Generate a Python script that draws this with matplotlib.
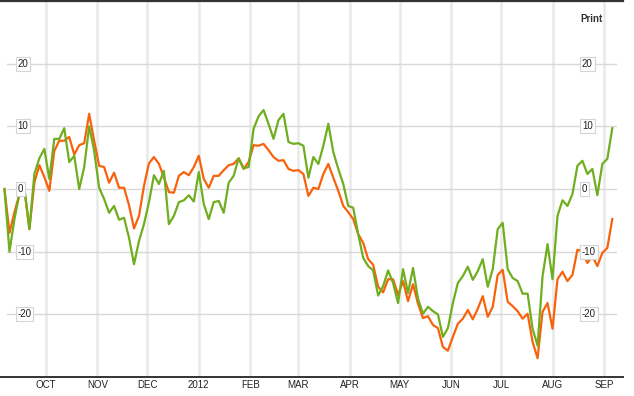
import matplotlib
matplotlib.use("Agg")
import matplotlib.pyplot as plt
import matplotlib.transforms as mtransforms
import pandas as pd

# percent change, sampled every 3 days from 2011-09-06
green = [0.0, -10.0, -4.8, -0.8, 0.0, -6.4, 2.4, 4.9, 6.4, 1.6,
         8.0, 8.0, 9.7, 4.3, 5.3, 0.0, 3.5, 10.0, 6.1, 0.2,
         -1.6, -3.8, -2.7, -4.9, -4.6, -7.8, -12.0, -8.3, -5.6, -2.1,
         2.2, 0.8, 2.9, -5.6, -4.3, -2.1, -1.8, -1.0, -2.0, 2.7,
         -2.4, -4.8, -2.1, -1.9, -3.8, 1.0, 2.1, 4.9, 3.3, 3.5,
         9.6, 11.6, 12.6, 10.4, 8.0, 11.0, 12.0, 7.5, 7.2, 7.3,
         6.9, 1.8, 5.1, 4.0, 6.9, 10.4, 5.9, 3.2, 0.8, -2.7,
         -3.0, -7.2, -11.0, -12.3, -13.0, -17.0, -15.5, -13.0, -15.0, -18.2,
         -12.8, -16.6, -12.6, -17.5, -19.9, -18.8, -19.5, -20.0, -23.6, -22.2,
         -18.2, -15.0, -13.9, -12.4, -14.5, -13.1, -11.2, -15.6, -12.8, -6.4,
         -5.4, -12.8, -14.2, -14.7, -16.7, -16.7, -22.3, -25.0, -13.9, -8.8,
         -14.4, -4.3, -1.8, -2.7, -0.8, 3.7, 4.5, 2.4, 3.2, -1.0,
         4.0, 4.8, 9.7]

orange = [0.0, -7.0, -3.7, -0.8, 0.0, -6.4, 1.0, 3.8, 1.9, -0.3,
          6.1, 7.7, 7.7, 8.3, 5.5, 7.0, 7.3, 12.0, 7.7, 3.7,
          3.5, 1.0, 2.6, 0.2, 0.2, -2.6, -6.3, -4.3, 0.5, 4.1,
          5.1, 4.0, 1.9, -0.5, -0.6, 2.1, 2.7, 2.2, 3.5, 5.3,
          1.6, 0.2, 2.1, 2.1, 3.0, 3.8, 4.0, 4.9, 3.2, 4.3,
          7.0, 6.9, 7.2, 6.2, 5.1, 4.5, 4.6, 3.2, 2.9, 3.0,
          2.4, -1.1, 0.2, 0.0, 2.4, 4.0, 1.8, -0.3, -2.7, -3.7,
          -4.8, -7.2, -8.6, -11.2, -12.1, -15.6, -16.5, -14.4, -14.4, -16.9,
          -14.7, -17.9, -15.2, -18.3, -20.6, -20.3, -21.7, -22.2, -25.2, -25.8,
          -23.6, -21.5, -20.7, -19.3, -20.8, -19.1, -17.1, -20.4, -18.8, -13.7,
          -12.9, -18.0, -18.7, -19.5, -20.7, -19.9, -24.4, -27.0, -19.6, -18.2,
          -22.3, -14.4, -13.2, -14.7, -13.7, -9.7, -9.9, -11.8, -10.7, -12.3,
          -10.2, -9.4, -4.8]

dates = pd.date_range("2011-09-06", periods=len(green), freq="3D")
month_ticks = pd.date_range("2011-10-01", "2012-09-01", freq="MS")
month_labels = ["OCT", "NOV", "DEC", "2012", "FEB", "MAR", "APR",
                "MAY", "JUN", "JUL", "AUG", "SEP"]
y_ticks = [20, 10, 0, -10, -20]

W, H = 634, 396
fig = plt.figure(figsize=(W / 100, H / 100), dpi=100)
ax = fig.add_axes([0, 19 / H, 623 / W, 376 / H])

px_day = 558 / 336.0
ax.set_xlim(pd.Timestamp("2011-10-01") - pd.Timedelta(days=46 / px_day),
            pd.Timestamp("2012-09-01") + pd.Timedelta(days=19 / px_day))
ax.set_ylim(-30, 30)

# grid
for d in month_ticks:
    ax.axvline(d, color="#e9e9e9", lw=1.8, zorder=1)
for v in y_ticks:
    ax.axhline(v, xmin=7 / 623, xmax=616 / 623, color="#d8d8d8", lw=1, zorder=1)

ax.plot(dates, orange, color="#f8620c", lw=1.6, zorder=3)
ax.plot(dates, green, color="#6fae1e", lw=1.6, zorder=4)

# boxed y labels on both sides
trans = mtransforms.blended_transform_factory(ax.transAxes, ax.transData)
box = dict(boxstyle="square,pad=0.2", fc="white", ec="#d4d4d4", lw=0.8)
for v in y_ticks:
    for xf in (17.5 / 623, 582 / 623):
        ax.text(xf, v, str(v), transform=trans, ha="left", va="center",
                fontsize=7, family="Liberation Sans", color="#222222",
                bbox=box, zorder=6)

ax.set_xticks(month_ticks)
ax.set_xticklabels(month_labels, fontsize=7, family="Liberation Sans",
                   color="#222222")
ax.tick_params(axis="x", length=0, pad=2.5)
ax.set_yticks([])

for s in ("left", "right"):
    ax.spines[s].set_visible(False)
ax.spines["bottom"].set_color("#333333")
ax.spines["bottom"].set_linewidth(1.4)
ax.spines["top"].set_color("#333333")
ax.spines["top"].set_linewidth(1.6)

fig.text(580 / W, 1 - 19 / H, "Print", fontsize=7, fontweight="bold",
         family="Liberation Sans", color="#333333", ha="left", va="center")

fig.savefig("out.png", dpi=100)
